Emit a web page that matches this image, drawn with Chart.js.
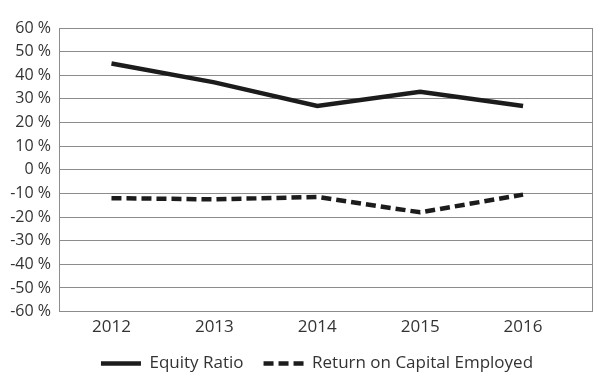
<!DOCTYPE html>
<html>
<head>
<meta charset="utf-8">
<script src="https://cdn.jsdelivr.net/npm/chart.js@4"></script>
<style>
  html, body { margin: 0; padding: 0; background: #fff; }
  #wrap { width: 600px; height: 388px; }
</style>
</head>
<body>
<div id="wrap"><canvas id="chart"></canvas></div>
<script>
var years = [2012, 2013, 2014, 2015, 2016];
var equityRatio = [45, 37, 27, 33, 27];
var returnOnCapital = [-12, -12.5, -11.5, -18, -10.5];
var seriesNames = ['Equity Ratio', 'Return on Capital Employed'];

var gridColor = '#8c8c8c';
var textColor = '#333333';

function toPoints(vals) {
  return years.map(function (y, i) { return { x: y, y: vals[i] }; });
}

// nudge the legend a bit to the right, like the original
var legendNudge = {
  id: 'legendNudge',
  afterLayout: function (chart) {
    var lg = chart.legend;
    lg.left += 17;
    lg.right += 17;
    lg.top += 1;
    lg.bottom += 1;
  }
};

var ctx = document.getElementById('chart').getContext('2d');
var myChart = new Chart(ctx, {
  type: 'line',
  data: {
    datasets: [{
      label: seriesNames[0],
      data: toPoints(equityRatio),
      borderColor: '#1c1c1c',
      backgroundColor: '#1c1c1c',
      borderWidth: 4.5,
      pointRadius: 0,
      tension: 0
    }, {
      label: seriesNames[1],
      data: toPoints(returnOnCapital),
      borderColor: '#1c1c1c',
      backgroundColor: '#1c1c1c',
      borderWidth: 4.5,
      borderDash: [10, 5],
      pointRadius: 0,
      tension: 0
    }]
  },
  plugins: [legendNudge],
  options: {
    responsive: true,
    maintainAspectRatio: false,
    animation: false,
    layout: {
      padding: { top: 28, right: 0, bottom: 7, left: 0 }
    },
    plugins: {
      tooltip: { enabled: false },
      legend: {
        position: 'bottom',
        labels: {
          color: textColor,
          font: { family: 'Open Sans', size: 17 },
          usePointStyle: true,
          pointStyle: 'line',
          pointStyleWidth: 40,
          padding: 20,
          generateLabels: function (chart) {
            var items = Chart.defaults.plugins.legend.labels.generateLabels(chart);
            items.forEach(function (item) {
              var ds = chart.data.datasets[item.datasetIndex];
              item.lineDash = ds.borderDash || [];
              item.lineWidth = 4.5;
            });
            return items;
          }
        }
      }
    },
    scales: {
      x: {
        type: 'linear',
        min: 2011.49,
        max: 2016.67,
        afterBuildTicks: function (scale) {
          scale.ticks = years.map(function (v) { return { value: v }; });
        },
        grid: { display: false },
        border: { display: true, color: gridColor, width: 1 },
        ticks: {
          color: textColor,
          font: { family: 'Open Sans', size: 17 },
          padding: -3,
          callback: function (v) { return String(v); }
        }
      },
      y: {
        min: -60,
        max: 60,
        afterFit: function (scale) { scale.width = 59; },
        grid: { color: gridColor, lineWidth: 1, drawTicks: false },
        border: { display: true, color: gridColor, width: 1 },
        ticks: {
          stepSize: 10,
          color: textColor,
          padding: 8,
          font: { family: 'Open Sans', size: 16 },
          callback: function (v) { return v + ' %'; }
        }
      },
      yRight: {
        position: 'right',
        min: -60,
        max: 60,
        grid: { display: false },
        border: { display: true, color: gridColor, width: 1 },
        ticks: { display: false }
      }
    }
  }
});
</script>
</body>
</html>
